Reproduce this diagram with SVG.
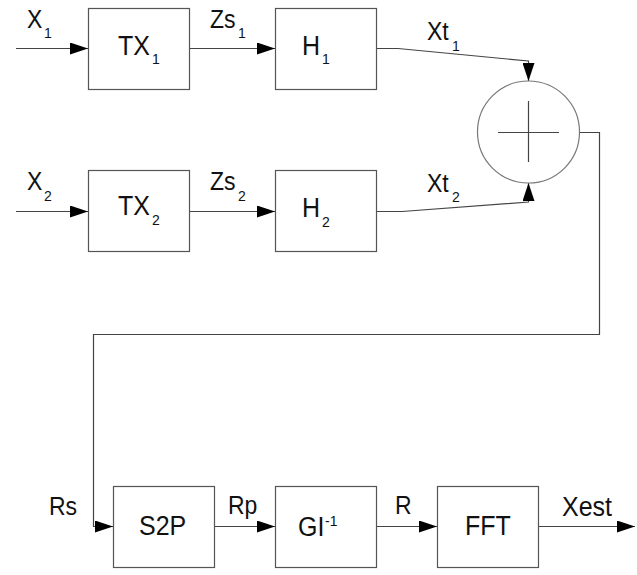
<svg xmlns="http://www.w3.org/2000/svg" width="637" height="575" viewBox="0 0 637 575">
<style>
.box{fill:#fff;stroke:#555;stroke-width:1.2}
.ln{fill:none;stroke:#444;stroke-width:1.2}
.lb{font-family:"Liberation Sans",Arial,sans-serif;font-size:23px;fill:#111}
.bt{font-family:"Liberation Sans",Arial,sans-serif;font-size:25px;fill:#111}
.sb{font-size:14px}
</style>
<defs>
<marker id="ah" viewBox="0 0 18 12" refX="18" refY="6" markerWidth="18" markerHeight="12" markerUnits="userSpaceOnUse" orient="auto">
<path d="M0,0 L18,6 L0,12 Z" fill="#000"/>
</marker>
</defs>
<rect width="637" height="575" fill="#fff"/>
<g id="connectors">
<line class="ln" x1="16" y1="48.5" x2="88" y2="48.5" marker-end="url(#ah)"/>
<line class="ln" x1="190" y1="48.5" x2="275" y2="48.5" marker-end="url(#ah)"/>
<line class="ln" x1="16" y1="211.5" x2="88" y2="211.5" marker-end="url(#ah)"/>
<line class="ln" x1="190" y1="211.5" x2="275" y2="211.5" marker-end="url(#ah)"/>
<polyline class="ln" points="376,48.5 398,48.5 528.5,61 528.5,81" marker-end="url(#ah)"/>
<polyline class="ln" points="376,211.5 402,211.5 528.5,202 528.5,183" marker-end="url(#ah)"/>
<polyline class="ln" points="579,132.5 599.5,132.5 599.5,334.5 93.5,334.5 93.5,526.5 113,526.5" marker-end="url(#ah)"/>
<line class="ln" x1="214" y1="526.5" x2="275" y2="526.5" marker-end="url(#ah)"/>
<line class="ln" x1="376" y1="526.5" x2="437" y2="526.5" marker-end="url(#ah)"/>
<line class="ln" x1="538" y1="526.5" x2="635" y2="526.5" marker-end="url(#ah)"/>
<text class="lb" transform="translate(27,28) scale(1,1.1)">X<tspan class="sb" x="17" y="9">1</tspan></text>
<text class="lb" transform="translate(210,28) scale(1,1.1)">Zs<tspan class="sb" x="28" y="9">1</tspan></text>
<text class="lb" transform="translate(427,40) scale(1,1.1)">Xt<tspan class="sb" x="25" y="10">1</tspan></text>
<text class="lb" transform="translate(27,190) scale(1,1.1)">X<tspan class="sb" x="17" y="10">2</tspan></text>
<text class="lb" transform="translate(210,190) scale(1,1.1)">Zs<tspan class="sb" x="28" y="10">2</tspan></text>
<text class="lb" transform="translate(427,192) scale(1,1.1)">Xt<tspan class="sb" x="25" y="9">2</tspan></text>
<text class="lb" transform="translate(49,515) scale(1,1.1)">Rs</text>
<text class="lb" transform="translate(228,514) scale(1,1.1)">Rp</text>
<text class="lb" transform="translate(395,514) scale(1,1.1)">R</text>
<text class="lb" transform="translate(562,516) scale(1,1.1)" style="font-size:25px">Xest</text>
</g>
<g id="tx1"><rect class="box" x="88.5" y="8.5" width="101" height="81"/><text class="bt" transform="translate(118,55) scale(1,1.08)">TX<tspan class="sb" x="34" y="8">1</tspan></text></g>
<g id="h1"><rect class="box" x="275.5" y="8.5" width="101" height="81"/><text class="bt" transform="translate(302,55) scale(1,1.08)">H<tspan class="sb" x="20" y="8">1</tspan></text></g>
<g id="tx2"><rect class="box" x="88.5" y="170.5" width="101" height="81"/><text class="bt" transform="translate(118,215) scale(1,1.08)">TX<tspan class="sb" x="34" y="9">2</tspan></text></g>
<g id="h2"><rect class="box" x="275.5" y="170.5" width="101" height="81"/><text class="bt" transform="translate(302,217) scale(1,1.08)">H<tspan class="sb" x="20" y="9">2</tspan></text></g>
<g id="sum"><circle cx="528.5" cy="132" r="51" fill="#fff" stroke="#777" stroke-width="1.2"/><path class="ln" d="M498,132.5 H559 M528.5,101 V162"/></g>
<g id="s2p"><rect class="box" x="113.5" y="486.5" width="101" height="81"/><text class="bt" transform="translate(139,535) scale(1,1.08)">S2P</text></g>
<g id="gi"><rect class="box" x="275.5" y="486.5" width="101" height="81"/><text class="bt" transform="translate(298,536) scale(1,1.08)">GI<tspan class="sb" x="27" y="-9">-1</tspan></text></g>
<g id="fft"><rect class="box" x="437.5" y="486.5" width="101" height="81"/><text class="bt" transform="translate(465,535) scale(1,1.08)">FFT</text></g>
</svg>
